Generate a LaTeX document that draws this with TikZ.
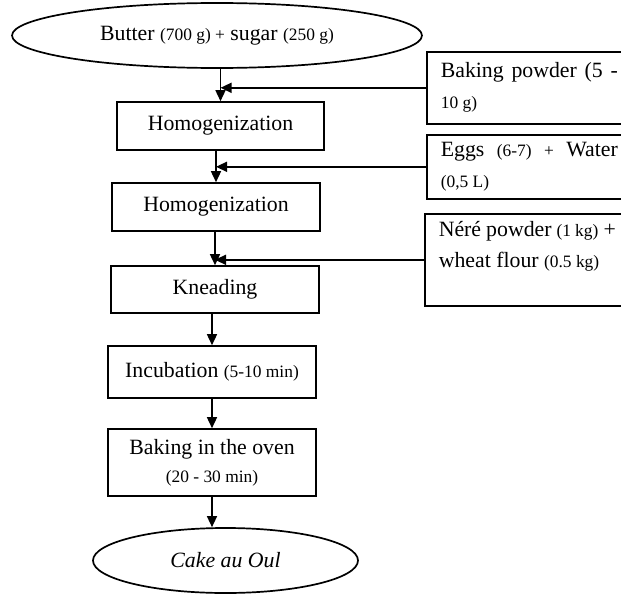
\documentclass[tikz,border=0pt]{standalone}
\usepackage{fontspec}
\setmainfont{Liberation Serif}
\usepackage{tikz}
\usetikzlibrary{arrows.meta, positioning, shapes.geometric, calc}
\newcommand{\Qty}[1]{{\fontsize{8.7}{10}\selectfont #1}}
\tikzset{
    procbox/.style={draw, rectangle, line width=0.8pt, inner sep=0pt, minimum width=104pt, align=center,
      font=\fontsize{10.9}{14}\selectfont},
    oval/.style={draw, ellipse, line width=0.85pt, inner sep=0pt, font=\fontsize{10.9}{14}\selectfont},
    addbox/.style={draw, rectangle, anchor=north west, line width=0.8pt, text width=88.5pt, inner xsep=7pt,
      inner ysep=0pt, align=justify, font=\fontsize{10.9}{15.5}\selectfont},
    flow/.style={line width=0.75pt, -{Triangle[length=5.5pt, width=5pt]}},
}
\begin{document}
\begin{tikzpicture}[x=0.5pt, y=-0.5pt]
    \useasboundingbox (0,0) rectangle (621,594);

    % main line
    \node[oval, minimum width=205pt, minimum height=32.5pt] (top) at (217,35.5)
      {Butter \Qty{(700 g) +} sugar \Qty{(250 g)}};
    \node[procbox, minimum width=103.5pt, minimum height=24pt] (h1) at (220.5,126) {Homogenization};
    \node[procbox, minimum height=24pt] (h2) at (216,207) {Homogenization};
    \node[procbox, minimum height=23.5pt] (kn) at (215,289.5) {Kneading};
    \node[procbox, minimum height=26pt] (inc) at (212,372) {Incubation \Qty{(5-10 min)}};
    \node[procbox, minimum height=33.5pt] (bake) at (212,462.5) {Baking in the oven\\ \Qty{(20 - 30 min)}};
    \node[oval, minimum width=132.5pt, minimum height=32.5pt] (cake) at (225.5,560.5) {\textit{Cake au Oul}};

    % added ingredients
    \node[addbox, minimum height=36pt] (bp) at (426,51)
      {Baking\hfill powder\hfill (5\hfill -\\ \Qty{10 g)}};
    \node[addbox, minimum height=32pt] (egg) at (426,134)
      {Eggs\hfill \Qty{(6-7)}\hfill \Qty{+}\hfill Water\\ \Qty{(0,5 L)}};
    \node[addbox, minimum height=46pt] (nere) at (424,213)
      {Néré powder \Qty{(1 kg)} +\\ wheat flour \Qty{(0.5 kg)}\\ \mbox{}};

    \draw (h1.north |- top.south) edge[flow] (h1.north);
    \draw (h2.north |- h1.south) edge[flow] (h2.north);
    \draw (kn.north |- h2.south) edge[flow] (kn.north);
    \draw (inc.north |- kn.south) edge[flow] (inc.north);
    \draw (bake.north |- inc.south) edge[flow] (bake.north);
    \draw (bake.south) edge[flow] (bake.south |- cake.north);

    \draw (bp.west) edge[flow] (bp.west -| h1.north);
    \draw (egg.west) edge[flow] (egg.west -| h2.north);
    \draw (nere.west) edge[flow] (nere.west -| kn.north);

  \end{tikzpicture}
\end{document}
